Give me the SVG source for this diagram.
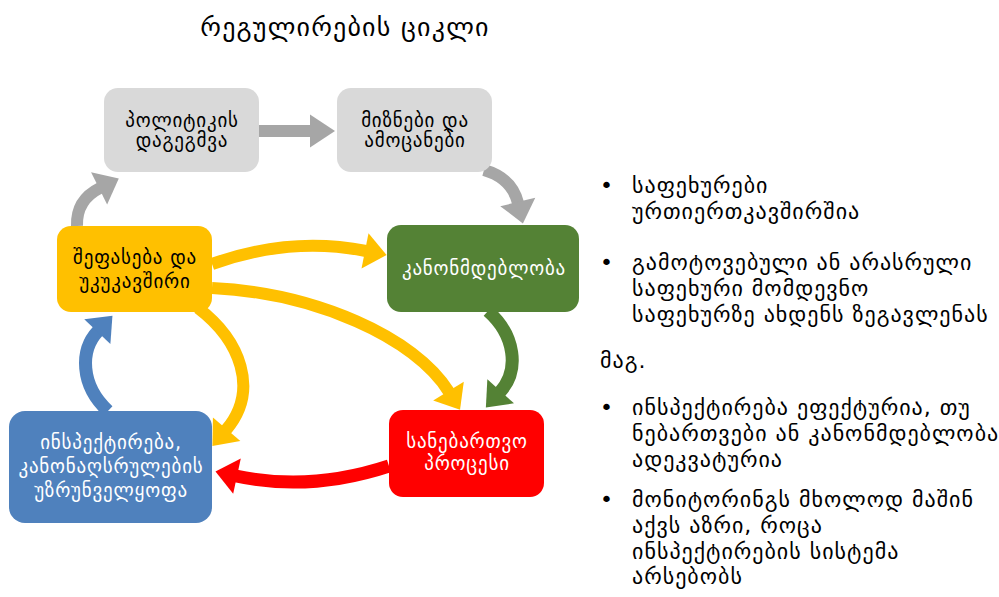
<svg xmlns="http://www.w3.org/2000/svg" width="999" height="597" viewBox="0 0 999 597">
<style>
  text { font-family: "DejaVu Sans", "Noto Sans", sans-serif; }
  .title { font-size: 26px; letter-spacing: 1.2px; fill: #000; }
  .lbl { font-size: 19px; letter-spacing: 0.8px; text-anchor: middle; }
  .dark { fill: #000; }
  .light { fill: #fff; }
  .side { font-size: 22px; letter-spacing: 1px; fill: #000; }
  .box { stroke: none; }
  .conn { fill: none; }
</style>
<defs>
  <marker id="hGrayS" markerUnits="userSpaceOnUse" markerWidth="26" markerHeight="34" refX="0" refY="16.5" orient="auto" overflow="visible"><path d="M0,0 L25,16.5 L0,33 z" fill="#a6a6a6"/></marker>
  <marker id="hGray" markerUnits="userSpaceOnUse" markerWidth="24" markerHeight="38" refX="1" refY="18" orient="auto" overflow="visible"><path d="M0,0 L22,18 L0,36 z" fill="#a6a6a6"/></marker>
  <marker id="hYellow" markerUnits="userSpaceOnUse" markerWidth="24" markerHeight="38" refX="1" refY="18" orient="auto" overflow="visible"><path d="M0,0 L22,18 L0,36 z" fill="#ffc000"/></marker>
  <marker id="hGreen" markerUnits="userSpaceOnUse" markerWidth="24" markerHeight="38" refX="1" refY="18" orient="auto" overflow="visible"><path d="M0,0 L22,18 L0,36 z" fill="#548235"/></marker>
  <marker id="hBlue" markerUnits="userSpaceOnUse" markerWidth="24" markerHeight="38" refX="1" refY="18" orient="auto" overflow="visible"><path d="M0,0 L22,18 L0,36 z" fill="#4f81bd"/></marker>
  <marker id="hRed" markerUnits="userSpaceOnUse" markerWidth="24" markerHeight="38" refX="1" refY="18" orient="auto" overflow="visible"><path d="M0,0 L22,18 L0,36 z" fill="#ff0000"/></marker>
</defs>
<rect width="999" height="597" fill="#fff"/>
<text class="title" x="345" y="36" text-anchor="middle">რეგულირების ციკლი</text>

<g id="connectors" class="conn">
  <path d="M258,131 L310,131" stroke="#a6a6a6" stroke-width="12" marker-end="url(#hGrayS)"/>
  <path d="M484,170 Q512,178 518,203" stroke="#a6a6a6" stroke-width="12" marker-end="url(#hGray)"/>
  <path d="M77,226 Q76,200 100,188" stroke="#a6a6a6" stroke-width="12" marker-end="url(#hGray)"/>
  <path d="M212,264 Q290,236 366,251" stroke="#ffc000" stroke-width="12" marker-end="url(#hYellow)"/>
  <path d="M212,288 C315,293 415,337 449,392" stroke="#ffc000" stroke-width="12" marker-end="url(#hYellow)"/>
  <path d="M198,308 C240,340 260,390 226,430" stroke="#ffc000" stroke-width="12" marker-end="url(#hYellow)"/>
  <path d="M488,311 C515,335 520,370 500,392" stroke="#548235" stroke-width="13" marker-end="url(#hGreen)"/>
  <path d="M108,411 C80,385 80,350 98,331" stroke="#4f81bd" stroke-width="13" marker-end="url(#hBlue)"/>
  <path d="M389,466 Q310,492 236,476" stroke="#ff0000" stroke-width="13" marker-end="url(#hRed)"/>
</g>

<g id="node-policy">
  <rect class="box" x="104" y="88" width="155" height="84" rx="14" fill="#d9d9d9"/>
  <text class="lbl dark" x="182" y="127">პოლიტიკის</text>
  <text class="lbl dark" x="182" y="147">დაგეგმვა</text>
</g>
<g id="node-goals">
  <rect class="box" x="337" y="88" width="155" height="84" rx="14" fill="#d9d9d9"/>
  <text class="lbl dark" x="415" y="127">მიზნები და</text>
  <text class="lbl dark" x="415" y="147">ამოცანები</text>
</g>
<g id="node-evaluation">
  <rect class="box" x="57" y="226" width="155" height="86" rx="14" fill="#ffc000"/>
  <text class="lbl dark" x="135" y="264">შეფასება და</text>
  <text class="lbl dark" x="135" y="288">უკუკავშირი</text>
</g>
<g id="node-legislation">
  <rect class="box" x="387" y="225" width="192" height="87" rx="14" fill="#548235"/>
  <text class="lbl light" x="484" y="275">კანონმდებლობა</text>
</g>
<g id="node-permitting">
  <rect class="box" x="389" y="410" width="155" height="87" rx="14" fill="#ff0000"/>
  <text class="lbl light" x="467" y="448">სანებართვო</text>
  <text class="lbl light" x="467" y="470">პროცესი</text>
</g>
<g id="node-inspection">
  <rect class="box" x="9" y="411" width="203" height="112" rx="16" fill="#4f81bd"/>
  <text class="lbl light" x="111" y="449">ინსპექტირება,</text>
  <text class="lbl light" x="111" y="473">კანონაღსრულების</text>
  <text class="lbl light" x="111" y="497">უზრუნველყოფა</text>
</g>

<g id="side-notes" class="side">
  <text x="600" y="193">•</text>
  <text x="632" y="193">საფეხურები</text>
  <text x="632" y="219">ურთიერთკავშირშია</text>
  <text x="600" y="270">•</text>
  <text x="632" y="270">გამოტოვებული ან არასრული</text>
  <text x="632" y="296">საფეხური მომდევნო</text>
  <text x="632" y="322">საფეხურზე ახდენს ზეგავლენას</text>
  <text x="600" y="368">მაგ.</text>
  <text x="600" y="415">•</text>
  <text x="632" y="415">ინსპექტირება ეფექტურია, თუ</text>
  <text x="632" y="441">ნებართვები ან კანონმდებლობა</text>
  <text x="632" y="467">ადეკვატურია</text>
  <text x="600" y="507">•</text>
  <text x="632" y="507">მონიტორინგს მხოლოდ მაშინ</text>
  <text x="632" y="533">აქვს აზრი, როცა</text>
  <text x="632" y="559">ინსპექტირების სისტემა</text>
  <text x="632" y="584">არსებობს</text>
</g>
</svg>
